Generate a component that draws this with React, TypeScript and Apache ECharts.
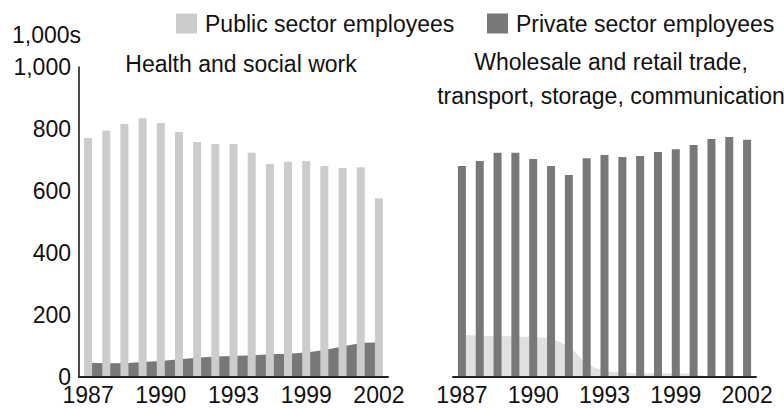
import React, { useEffect, useRef } from "react";
import * as echarts from "echarts";

const categories = ["1987", "", "", "", "1990", "", "", "", "1993", "", "", "", "1999", "", "", "", "2002"];
const yTicks = [0, 200, 400, 600, 800, 1000];

// Health and social work
const healthPublic = [771, 794, 816, 835, 819, 790, 758, 752, 752, 723, 687, 694, 697, 681, 674, 677, 577];
const healthPrivate = [46, 44, 44, 48, 52, 57, 62, 66, 68, 70, 73, 75, 79, 87, 98, 110, 112];

// Wholesale and retail trade, transport, storage, communication
const tradePrivate = [681, 697, 723, 723, 703, 681, 652, 706, 716, 710, 713, 726, 735, 748, 768, 774, 765];
const tradePublic = [136, 133, 132, 131, 129, 122, 97, 45, 20, 14, 12, 11, 11, 8, 0, null, null];

const LIGHT = "#cccccc";
const DARK = "#787878";
const PALE = "#e0e0e0";
const FONT = "'Liberation Sans', Arial, Helvetica, sans-serif";

export default function App() {
  const ref = useRef<HTMLDivElement>(null);
  useEffect(() => {
    if (!ref.current) return;
    const chart = echarts.init(ref.current, undefined, { renderer: "svg" });
    const xAxisBase = {
      type: "category",
      data: categories,
      boundaryGap: true,
      z: 10,
      axisLine: { show: true, lineStyle: { color: "#222", width: 2 } },
      axisTick: { show: false },
      axisLabel: { interval: 0, margin: 9, fontSize: 23, lineHeight: 18, color: "#111", fontFamily: FONT },
      splitLine: { show: false },
    };
    const legendBase = {
      top: 7,
      itemWidth: 21,
      itemHeight: 20,
      icon: "rect",
      selectedMode: false,
      width: 400,
      textStyle: { fontSize: 23, color: "#111", fontFamily: FONT, padding: [0, 0, 0, 3] },
    };
    chart.setOption({
      animation: false,
      textStyle: { fontFamily: FONT },
      legend: [
        { ...legendBase, left: 171, data: ["Public sector employees"] },
        { ...legendBase, left: 482, data: ["Private sector employees"] },
      ],
      title: [
        {
          text: "1,000s",
          left: 12,
          top: 23,
          padding: 0,
          textStyle: { fontSize: 23, fontWeight: "normal", color: "#111", fontFamily: FONT },
        },
        {
          text: "Health and social work",
          left: 241,
          top: 52,
          textAlign: "center",
          padding: 0,
          textStyle: { fontSize: 23, fontWeight: "normal", color: "#111", fontFamily: FONT },
        },
        {
          text: "Wholesale and retail trade,\ntransport, storage, communication",
          left: 611,
          top: 45,
          textAlign: "center",
          padding: 0,
          textStyle: { fontSize: 23, lineHeight: 34, fontWeight: "normal", color: "#111", fontFamily: FONT },
        },
      ],
      grid: [
        { left: 79, width: 309, top: 67, height: 310 },
        { left: 453, width: 303, top: 67, height: 310 },
      ],
      xAxis: [
        { ...xAxisBase, gridIndex: 0 },
        { ...xAxisBase, gridIndex: 1 },
      ],
      yAxis: [
        {
          type: "value",
          gridIndex: 0,
          min: 0,
          max: 1000,
          interval: 200,
          axisLine: { show: true, lineStyle: { color: "#111", width: 1.5 } },
          axisTick: { show: false },
          splitLine: { show: false },
          axisLabel: {
            margin: 8,
            fontSize: 23,
            lineHeight: 16,
            color: "#111",
            fontFamily: FONT,
            formatter: (v: number) => (yTicks.includes(v) ? v.toLocaleString("en-US") : ""),
          },
        },
        {
          type: "value",
          gridIndex: 1,
          min: 0,
          max: 1000,
          interval: 200,
          show: false,
          splitLine: { show: false },
        },
      ],
      series: [
        {
          name: "Public sector employees",
          type: "bar",
          xAxisIndex: 0,
          yAxisIndex: 0,
          data: healthPublic,
          barWidth: 8,
          z: 3,
          itemStyle: { color: LIGHT },
        },
        {
          name: "Private sector employees",
          type: "line",
          xAxisIndex: 0,
          yAxisIndex: 0,
          data: healthPrivate,
          showSymbol: false,
          symbol: "none",
          z: 2,
          lineStyle: { width: 0, color: DARK },
          itemStyle: { color: DARK },
          areaStyle: { color: DARK, opacity: 1 },
        },
        {
          name: "Private sector employees",
          type: "bar",
          xAxisIndex: 1,
          yAxisIndex: 1,
          data: tradePrivate,
          barWidth: 8,
          z: 3,
          itemStyle: { color: DARK },
        },
        {
          name: "Public sector employees",
          type: "line",
          xAxisIndex: 1,
          yAxisIndex: 1,
          data: tradePublic,
          smooth: 0.4,
          showSymbol: false,
          symbol: "none",
          z: 2,
          lineStyle: { width: 0, color: PALE },
          itemStyle: { color: PALE },
          areaStyle: { color: PALE, opacity: 1 },
        },
      ],
    });
    return () => chart.dispose();
  }, []);
  return (
    <div
      ref={ref}
      style={{ position: "absolute", left: 0, top: 0, width: 784, height: 409, background: "#fff" }}
    />
  );
}
